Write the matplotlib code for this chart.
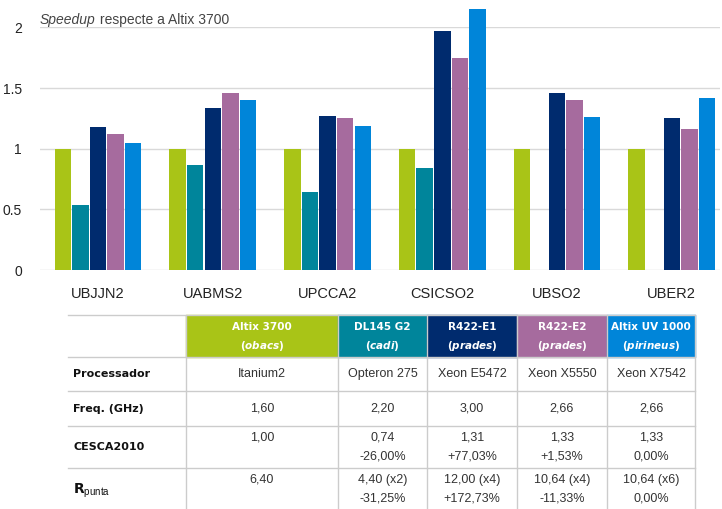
import numpy as np
import matplotlib
matplotlib.use('Agg')
import matplotlib.pyplot as plt
from matplotlib.patches import Rectangle

plt.rcParams['font.family'] = ['Liberation Sans', 'DejaVu Sans']
plt.rcParams['mathtext.fontset'] = 'custom'
plt.rcParams['mathtext.rm'] = 'Liberation Sans'
plt.rcParams['mathtext.bf'] = 'DejaVu Sans:bold'
plt.rcParams['mathtext.bfit'] = 'DejaVu Sans:italic:bold'

# speedup data
categories = ['UBJJN2', 'UABMS2', 'UPCCA2', 'CSICSO2', 'UBSO2', 'UBER2']
altix3700 = [1.00, 1.00, 1.00, 1.00, 1.00, 1.00]
dl145 = [0.54, 0.87, 0.64, 0.84, np.nan, np.nan]
r422e1 = [1.18, 1.34, 1.27, 1.97, 1.46, 1.25]
r422e2 = [1.12, 1.46, 1.25, 1.75, 1.40, 1.16]
altixuv = [1.05, 1.40, 1.19, 2.15, 1.26, 1.42]
series = [altix3700, dl145, r422e1, r422e2, altixuv]
colors = ['#a9c417', '#00859b', '#002b6e', '#a66b9e', '#0085d9']

# table content
machines = ['Altix 3700', 'DL145 G2', 'R422-E1', 'R422-E2', 'Altix UV 1000']
sites = ['obacs', 'cadi', 'prades', 'prades', 'pirineus']
row_labels = ['Processador', 'Freq. (GHz)', 'CESCA2010', r'$\mathbf{R}_{\mathrm{punta}}$']
processador = ['Itanium2', 'Opteron 275', 'Xeon E5472', 'Xeon X5550', 'Xeon X7542']
freq = ['1,60', '2,20', '3,00', '2,66', '2,66']
cesca = [['1,00'], ['0,74', '-26,00%'], ['1,31', '+77,03%'], ['1,33', '+1,53%'], ['1,33', '0,00%']]
rpunta = [['6,40'], ['4,40 (x2)', '-31,25%'], ['12,00 (x4)', '+172,73%'],
          ['10,64 (x4)', '-11,33%'], ['10,64 (x6)', '0,00%']]

W, H = 722, 509
fig = plt.figure(figsize=(W / 100, H / 100), dpi=100)

# ---- bar chart ----
ax = fig.add_axes([40 / W, 1 - 270 / H, 680 / W, (270 - 27.5) / H])
x = np.arange(len(categories))
step = 0.1535
for i, (vals, c) in enumerate(zip(series, colors)):
    ax.bar(x + (i - 2) * step, vals, width=0.143, color=c, clip_on=False, zorder=3)

ax.set_xlim(-0.506, 5.42)
ax.set_ylim(0, 2)
ax.set_yticks([0, 0.5, 1, 1.5, 2])
ax.set_yticklabels(['0', '0.5', '1', '1.5', '2'])
ax.set_xticks(x)
ax.set_xticklabels(categories)
ax.tick_params(axis='y', length=0, pad=13, labelsize=10, labelcolor='#222222')
ax.tick_params(axis='x', length=0, pad=12, labelsize=10.5, labelcolor='#222222')
ax.grid(axis='y', color='#d9d9d9', linewidth=1.0, zorder=0)
for s in ax.spines.values():
    s.set_visible(False)

t = ax.text(0, 1.0, 'Speedup', transform=ax.transAxes, fontsize=10, style='italic',
            color='#444444', va='bottom', ha='left')
ax.annotate(' respecte a Altix 3700', xy=(1, 0), xycoords=t, fontsize=10,
            color='#444444', va='bottom', ha='left')

# ---- table ----
tab = fig.add_axes([0, 0, 1, 1])
tab.set_xlim(0, W)
tab.set_ylim(H, 0)
tab.axis('off')

col_edges = [68, 186, 338, 427, 517, 607, 695]
row_edges = [315, 357, 391, 426, 468, 515]
line_c = '#cccccc'
txt_c = '#333333'

for i, name in enumerate(machines):
    x0, x1 = col_edges[i + 1], col_edges[i + 2]
    tab.add_patch(Rectangle((x0, row_edges[0]), x1 - x0, row_edges[1] - row_edges[0],
                            color=colors[i], zorder=1))
    xc = (x0 + x1) / 2
    tab.text(xc, 327, name, ha='center', va='center', color='white', fontsize=7.5,
             fontweight='bold', family='DejaVu Sans', zorder=3)
    tab.text(xc, 346, '($\\mathbfit{' + sites[i] + '}$)', ha='center', va='center',
             color='white', fontsize=7.5, fontweight='bold', family='DejaVu Sans', zorder=3)

for y in row_edges[:-1]:
    tab.plot([col_edges[0], col_edges[-1]], [y, y], color=line_c, lw=1, zorder=2)
for xe in col_edges[1:]:
    tab.plot([xe, xe], [row_edges[0], row_edges[-1]], color=line_c, lw=1, zorder=2)

body = [[[v] for v in processador], [[v] for v in freq], cesca, rpunta]
for r, (label, cells) in enumerate(zip(row_labels, body)):
    top, bot = row_edges[r + 1], row_edges[r + 2]
    yc = (top + bot) / 2
    if r == 3:
        tab.text(73, 491, label, ha='left', va='center', fontsize=10,
                 family='DejaVu Sans', color='#111111')
    else:
        tab.text(73, yc, label, ha='left', va='center', fontsize=8, fontweight='bold',
                 family='DejaVu Sans', color='#111111')
    for i, lines in enumerate(cells):
        xc = (col_edges[i + 1] + col_edges[i + 2]) / 2
        if r < 2:
            tab.text(xc, yc, lines[0], ha='center', va='center', fontsize=9, color=txt_c)
        else:
            for k, s in enumerate(lines):
                tab.text(xc, top + 12 + 18.5 * k, s, ha='center', va='center',
                         fontsize=9, color=txt_c)

fig.savefig('out.png', dpi=100)
